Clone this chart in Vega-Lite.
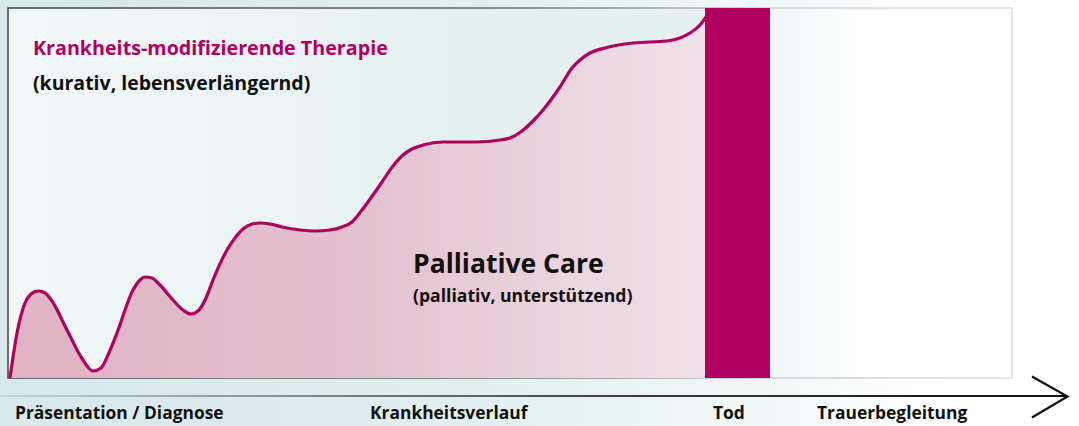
{
  "$schema": "https://vega.github.io/schema/vega-lite/v6.json",
  "width": 1079,
  "height": 426,
  "autosize": {"type": "fit", "contains": "padding"},
  "padding": 0,
  "background": "#ffffff",
  "config": {"view": {"stroke": null}},
  "datasets": {
    "canvas": [{"x": -8, "x2": 1071, "y": -48, "y2": 378}],
    "box": [{"x": 0, "x2": 1004, "y": 0, "y2": 370}],
    "bar": [{"x": 697, "x2": 762, "y": 0, "y2": 370}],
    "axisline": [{"x": -8, "x2": 1058, "y": -17, "y2": -19}],
    "arrowhead": [{"x": 1024, "y": 1.5, "o": 1}, {"x": 1059.5, "y": -18.5, "o": 2}, {"x": 1024, "y": -39.5, "o": 3}],
    "curve": [
      {"x": 2, "y": 0}, {"x": 9, "y": 45}, {"x": 17, "y": 75}, {"x": 23, "y": 84}, {"x": 30, "y": 87},
      {"x": 37, "y": 85}, {"x": 44, "y": 77}, {"x": 59, "y": 48}, {"x": 75, "y": 18}, {"x": 85, "y": 7},
      {"x": 93, "y": 10}, {"x": 100, "y": 23}, {"x": 109, "y": 45}, {"x": 125, "y": 88}, {"x": 132, "y": 98},
      {"x": 137, "y": 101}, {"x": 144, "y": 100}, {"x": 152, "y": 93}, {"x": 165, "y": 78}, {"x": 175, "y": 68},
      {"x": 183, "y": 64}, {"x": 190, "y": 67}, {"x": 198, "y": 80}, {"x": 205, "y": 98}, {"x": 219, "y": 128},
      {"x": 227, "y": 140}, {"x": 235, "y": 149}, {"x": 244, "y": 154}, {"x": 252, "y": 155}, {"x": 262, "y": 154},
      {"x": 274, "y": 151}, {"x": 292, "y": 148}, {"x": 307, "y": 147}, {"x": 322, "y": 148}, {"x": 334, "y": 151},
      {"x": 344, "y": 156}, {"x": 354, "y": 168}, {"x": 372, "y": 193}, {"x": 385, "y": 212}, {"x": 395, "y": 223},
      {"x": 404, "y": 229}, {"x": 415, "y": 233}, {"x": 435, "y": 236}, {"x": 469, "y": 236}, {"x": 492, "y": 238},
      {"x": 502, "y": 240}, {"x": 514, "y": 247}, {"x": 524, "y": 256}, {"x": 535, "y": 268}, {"x": 552, "y": 291},
      {"x": 564, "y": 310}, {"x": 572, "y": 318}, {"x": 582, "y": 325}, {"x": 597, "y": 330}, {"x": 625, "y": 335},
      {"x": 659, "y": 337}, {"x": 672, "y": 340}, {"x": 682, "y": 345}, {"x": 692, "y": 353}, {"x": 700, "y": 364}
    ],
    "title": [{"x": 25, "y": 323, "label": "Krankheits-modifizierende Therapie"}],
    "subtitle": [{"x": 25, "y": 288, "label": "(kurativ, lebensverlängernd)"}],
    "pc": [{"x": 405, "y": 105, "label": "Palliative Care"}],
    "pcsub": [{"x": 405, "y": 76, "label": "(palliativ, unterstützend)"}],
    "bottom": [
      {"x": 7, "y": -41, "label": "Präsentation / Diagnose"},
      {"x": 362, "y": -41, "label": "Krankheitsverlauf"},
      {"x": 705, "y": -41, "label": "Tod"},
      {"x": 809, "y": -41, "label": "Trauerbegleitung"}
    ]
  },
  "encoding": {
    "x": {"field": "x", "type": "quantitative", "axis": null, "scale": {"domain": [-8, 1071], "nice": false, "zero": false}},
    "y": {"field": "y", "type": "quantitative", "axis": null, "scale": {"domain": [-48, 378], "nice": false, "zero": false}}
  },
  "layer": [
    {
      "data": {"name": "canvas"},
      "mark": {"type": "rect", "color": {"gradient": "linear", "x1": 0, "y1": 0, "x2": 1, "y2": 0,
        "stops": [{"offset": 0, "color": "#d6e8ea"}, {"offset": 0.45, "color": "#e2eff0"}, {"offset": 0.75, "color": "#f4f9f9"}, {"offset": 0.85, "color": "#ffffff"}, {"offset": 1, "color": "#ffffff"}]}},
      "encoding": {"x2": {"field": "x2"}, "y2": {"field": "y2"}}
    },
    {
      "data": {"name": "box"},
      "mark": {"type": "rect", "strokeWidth": 1.5,
        "fill": {"gradient": "linear", "x1": 0, "y1": 0, "x2": 1, "y2": 0,
          "stops": [{"offset": 0, "color": "#f3f8f9"}, {"offset": 0.45, "color": "#e6f0f1"}, {"offset": 0.7, "color": "#e6f0f1"}, {"offset": 0.85, "color": "#ffffff"}, {"offset": 1, "color": "#ffffff"}]},
        "stroke": {"gradient": "linear", "x1": 0, "y1": 0, "x2": 1, "y2": 0,
          "stops": [{"offset": 0, "color": "#3c4446"}, {"offset": 0.5, "color": "#6a7072"}, {"offset": 0.75, "color": "#c8cccd"}, {"offset": 1, "color": "#dcdede"}]}},
      "encoding": {"x2": {"field": "x2"}, "y2": {"field": "y2"}}
    },
    {
      "data": {"name": "curve"},
      "mark": {"type": "area", "interpolate": "monotone",
        "color": {"gradient": "linear", "x1": 0, "y1": 0, "x2": 1, "y2": 0,
          "stops": [{"offset": 0, "color": "#dfb3c3"}, {"offset": 0.5, "color": "#e3c1ce"}, {"offset": 1, "color": "#efe2e8"}]}},
      "encoding": {"y2": {"datum": 0}}
    },
    {
      "data": {"name": "curve"},
      "mark": {"type": "line", "interpolate": "monotone", "color": "#b0005f", "strokeWidth": 3.2}
    },
    {
      "data": {"name": "bar"},
      "mark": {"type": "rect", "color": "#b0005f"},
      "encoding": {"x2": {"field": "x2"}, "y2": {"field": "y2"}}
    },
    {
      "data": {"name": "axisline"},
      "mark": {"type": "rect", "color": {"gradient": "linear", "x1": 0, "y1": 0, "x2": 1, "y2": 0,
        "stops": [{"offset": 0, "color": "#c9d3d5"}, {"offset": 0.3, "color": "#7d8587"}, {"offset": 0.6, "color": "#3a3a3a"}, {"offset": 1, "color": "#111111"}]}},
      "encoding": {"x2": {"field": "x2"}, "y2": {"field": "y2"}}
    },
    {
      "data": {"name": "arrowhead"},
      "mark": {"type": "line", "color": "#111111", "strokeWidth": 2.2},
      "encoding": {"order": {"field": "o"}}
    },
    {
      "data": {"name": "title"},
      "mark": {"type": "text", "align": "left", "baseline": "alphabetic", "font": "Open Sans", "fontWeight": "bold", "fontSize": 19.7, "color": "#b0005f"},
      "encoding": {"text": {"field": "label"}}
    },
    {
      "data": {"name": "subtitle"},
      "mark": {"type": "text", "align": "left", "baseline": "alphabetic", "font": "Open Sans", "fontWeight": "bold", "fontSize": 19.5, "color": "#111111"},
      "encoding": {"text": {"field": "label"}}
    },
    {
      "data": {"name": "pc"},
      "mark": {"type": "text", "align": "left", "baseline": "alphabetic", "font": "Open Sans", "fontWeight": "bold", "fontSize": 26.5, "color": "#111111"},
      "encoding": {"text": {"field": "label"}}
    },
    {
      "data": {"name": "pcsub"},
      "mark": {"type": "text", "align": "left", "baseline": "alphabetic", "font": "Open Sans", "fontWeight": "bold", "fontSize": 17.6, "color": "#111111"},
      "encoding": {"text": {"field": "label"}}
    },
    {
      "data": {"name": "bottom"},
      "mark": {"type": "text", "align": "left", "baseline": "alphabetic", "font": "Open Sans", "fontWeight": "bold", "fontSize": 17.4, "color": "#111111"},
      "encoding": {"text": {"field": "label"}}
    }
  ]
}
